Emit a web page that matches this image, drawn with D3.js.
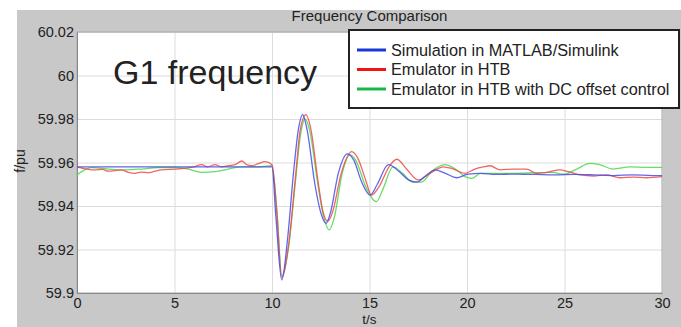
<!DOCTYPE html>
<html>
<head>
<meta charset="utf-8">
<script src="https://cdn.jsdelivr.net/npm/d3@7/dist/d3.min.js"></script>
<style>
  body { margin: 0; background: #fff; }
  text { font-family: "Liberation Sans", Arial, sans-serif; }
  .grid line { stroke: #dcdcdc; stroke-width: 1; }
  .grid path { stroke-width: 0; }
  .tick text { font-size: 14.5px; fill: #222; }
</style>
</head>
<body>
<svg id="chart" width="681" height="327"></svg>
<script>
// series as [t (s), f (Hz)]
var simulation = [
  [0, 59.958], [10, 59.958], [10.2, 59.935], [10.5, 59.906], [10.8, 59.925],
  [11.1, 59.955], [11.35, 59.975], [11.57, 59.982], [11.8, 59.975], [12.2, 59.95],
  [12.5, 59.937], [12.77, 59.932], [13.0, 59.937], [13.4, 59.955], [13.86, 59.964],
  [14.2, 59.961], [14.6, 59.951], [15.03, 59.945], [15.4, 59.95], [15.97, 59.959],
  [16.5, 59.956], [17.0, 59.952], [17.42, 59.951], [17.9, 59.954], [18.36, 59.9566],
  [18.9, 59.955], [19.47, 59.953], [20.0, 59.9545], [20.67, 59.955], [21.5, 59.9545],
  [22.5, 59.9547], [23.5, 59.9545], [24.5, 59.9543], [25.5, 59.9545], [26.5, 59.9543],
  [27.5, 59.954], [28.5, 59.9543], [29.5, 59.954], [30, 59.954]
];

var emulator = [
  [0, 59.958], [0.5, 59.957], [0.92, 59.9566], [1.3, 59.9568], [1.6, 59.956],
  [2.29, 59.9566], [2.6, 59.9556], [2.97, 59.955], [3.3, 59.9556], [3.66, 59.9553],
  [4.0, 59.956], [4.34, 59.9566], [5.03, 59.957], [5.7, 59.9575], [6.0, 59.958],
  [6.39, 59.959], [6.7, 59.958], [7.08, 59.959], [7.4, 59.958], [7.76, 59.9585],
  [8.1, 59.959], [8.45, 59.9607], [8.7, 59.959], [8.96, 59.9585], [9.3, 59.9595],
  [9.64, 59.9604], [10.0, 59.959], [10.25, 59.937], [10.5, 59.907], [10.85, 59.922],
  [11.2, 59.953], [11.45, 59.975], [11.74, 59.982], [12.0, 59.975], [12.35, 59.952],
  [12.6, 59.938], [12.86, 59.933], [13.1, 59.937], [13.55, 59.955], [14.09, 59.965],
  [14.4, 59.962], [14.8, 59.952], [15.1, 59.945], [15.5, 59.949], [16.0, 59.958],
  [16.4, 59.9615], [16.9, 59.957], [17.5, 59.952], [18.1, 59.955], [18.8, 59.958],
  [19.3, 59.957], [19.9, 59.955], [20.4, 59.957], [20.84, 59.958], [21.18, 59.9585],
  [21.7, 59.9566], [22.36, 59.957], [23.06, 59.957], [23.57, 59.955], [24.09, 59.9555],
  [24.77, 59.9566], [25.2, 59.9558], [25.8, 59.9543], [26.48, 59.9538], [27.16, 59.9543],
  [27.85, 59.953], [28.53, 59.9533], [29.2, 59.953], [30, 59.9535]
];

var emulatorDc = [
  [0, 59.9543], [0.24, 59.9558], [0.75, 59.9576], [1.6, 59.957], [2.46, 59.9566],
  [3.3, 59.957], [4.17, 59.9577], [5.03, 59.9577], [5.7, 59.957], [6.39, 59.9555],
  [7.08, 59.9558], [7.76, 59.957], [8.45, 59.958], [9.2, 59.958], [10.0, 59.9585],
  [10.25, 59.938], [10.5, 59.908], [10.85, 59.921], [11.2, 59.951], [11.45, 59.972],
  [11.7, 59.98], [11.95, 59.974], [12.35, 59.95], [12.65, 59.935], [12.94, 59.929],
  [13.2, 59.935], [13.6, 59.955], [14.0, 59.9635], [14.3, 59.961], [14.8, 59.949],
  [15.35, 59.942], [15.7, 59.948], [16.2, 59.958], [16.7, 59.955], [17.2, 59.951],
  [17.67, 59.951], [18.2, 59.956], [18.87, 59.959], [19.4, 59.957], [19.9, 59.9535],
  [20.24, 59.9527], [20.7, 59.955], [21.18, 59.955], [22.3, 59.955], [23.5, 59.9553],
  [24.4, 59.9555], [24.95, 59.9546], [25.63, 59.957], [26.3, 59.9596], [26.8, 59.959],
  [27.5, 59.957], [28.36, 59.958], [29.2, 59.9578], [30, 59.9578]
];

var legendLabels = ["Simulation in MATLAB/Simulink", "Emulator in HTB", "Emulator in HTB with DC offset control"];
var xTicks = [0, 5, 10, 15, 20, 25, 30];
var yTicks = [59.9, 59.92, 59.94, 59.96, 59.98, 60, 60.02];

var svg = d3.select("#chart"),
    MARGINS = { top: 32, right: 19, bottom: 34, left: 77 },
    WIDTH = 681, HEIGHT = 327;

var lineColors = ["#4a4ae8", "#ee4a4a", "#4ad84a"];
var legendColors = ["#1638d6", "#f01414", "#16b848"];

// gray figure background
svg.append("rect")
    .attr("x", 17).attr("y", 10)
    .attr("width", WIDTH - 17).attr("height", HEIGHT - 10)
    .attr("fill", "#c8c8c8");

var x = d3.scaleLinear().domain([0, 30]).range([MARGINS.left, WIDTH - MARGINS.right]);
var y = d3.scaleLinear().domain([59.9, 60.02]).range([HEIGHT - MARGINS.bottom, MARGINS.top]);

svg.append("rect")
    .attr("x", x(0)).attr("y", y(60.02))
    .attr("width", x(30) - x(0)).attr("height", y(59.9) - y(60.02))
    .attr("fill", "#fff");

svg.append("g")
    .attr("class", "grid")
    .attr("transform", "translate(0," + y(59.9) + ")")
    .call(d3.axisBottom(x).tickValues(xTicks).tickSize(-(y(59.9) - y(60.02))).tickFormat(""));

svg.append("g")
    .attr("class", "grid")
    .attr("transform", "translate(" + x(0) + ",0)")
    .call(d3.axisLeft(y).tickValues(yTicks).tickSize(-(x(30) - x(0))).tickFormat(""));

// plot frame
svg.append("rect")
    .attr("x", x(0)).attr("y", y(60.02))
    .attr("width", x(30) - x(0)).attr("height", y(59.9) - y(60.02))
    .attr("fill", "none").attr("stroke", "#a8a8a8").attr("stroke-width", 1);

var xAxis = svg.append("g")
    .attr("transform", "translate(0," + y(59.9) + ")")
    .call(d3.axisBottom(x).tickValues(xTicks).tickSize(0).tickPadding(5).tickFormat(d3.format("d")));
xAxis.select(".domain").attr("stroke", "#888");

var yAxis = svg.append("g")
    .attr("transform", "translate(" + x(0) + ",0)")
    .call(d3.axisLeft(y).tickValues(yTicks).tickSize(0).tickPadding(3).tickFormat(function(d) { return String(+d.toFixed(2)); }));
yAxis.select(".domain").attr("stroke", "#888");

var lineGen = d3.line()
    .x(function(d) { return x(d[0]); })
    .y(function(d) { return y(d[1]); })
    .curve(d3.curveMonotoneX);

[emulatorDc, emulator, simulation].forEach(function(series, i) {
    var idx = 2 - i;
    svg.append("path")
        .attr("d", lineGen(series))
        .attr("fill", "none")
        .attr("stroke", lineColors[idx])
        .attr("stroke-width", 1.3)
        .attr("stroke-opacity", 0.85);
});

svg.append("text")
    .attr("x", 113).attr("y", 84)
    .attr("font-size", "34px")
    .attr("fill", "#222")
    .text("G1 frequency");

svg.append("text")
    .attr("x", (x(0) + x(30)) / 2).attr("y", 21)
    .attr("text-anchor", "middle")
    .attr("font-size", "15px")
    .attr("fill", "#222")
    .text("Frequency Comparison");

svg.append("text")
    .attr("x", (x(0) + x(30)) / 2).attr("y", 324)
    .attr("text-anchor", "middle")
    .attr("font-size", "13.5px")
    .attr("fill", "#222")
    .text("t/s");

svg.append("text")
    .attr("transform", "translate(25,161) rotate(-90)")
    .attr("text-anchor", "middle")
    .attr("font-size", "14px")
    .attr("fill", "#222")
    .text("f/pu");

// legend
var legend = svg.append("g");
legend.append("rect")
    .attr("x", 349).attr("y", 30)
    .attr("width", 330).attr("height", 78)
    .attr("fill", "#fff").attr("stroke", "#222").attr("stroke-width", 2);

legendLabels.forEach(function(label, i) {
    var ly = 50 + i * 19.5;
    legend.append("line")
        .attr("x1", 357).attr("x2", 386)
        .attr("y1", ly).attr("y2", ly)
        .attr("stroke", legendColors[i]).attr("stroke-width", 3);
    legend.append("text")
        .attr("x", 391).attr("y", ly + 5.5)
        .attr("font-size", "16.3px")
        .attr("fill", "#222")
        .text(label);
});
</script>
</body>
</html>
